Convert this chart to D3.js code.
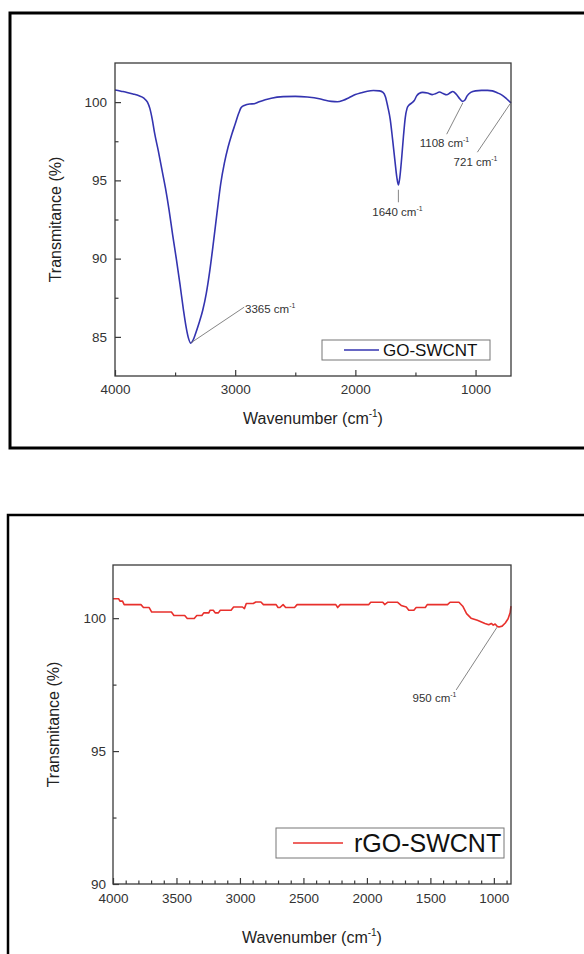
<!DOCTYPE html>
<html>
<head>
<meta charset="utf-8">
<script src="https://cdn.jsdelivr.net/npm/d3@7"></script>
<style>
  html, body { margin: 0; padding: 0; background: #fff; }
  svg { display: block; font-family: "Liberation Sans", Arial, sans-serif; }
</style>
</head>
<body>
<div id="chart"></div>
<script>
// GO-SWCNT spectrum (wavenumber in cm-1, transmittance in %)
const goWavenumber = [4000, 3950, 3900, 3850, 3800, 3760, 3730, 3710, 3690, 3670, 3640, 3610, 3580, 3550, 3520, 3490, 3460, 3430, 3410, 3390, 3370, 3350, 3330, 3300, 3270, 3240, 3210, 3180, 3150, 3120, 3090, 3060, 3030, 3000, 2970, 2950, 2920, 2880, 2840, 2800, 2750, 2700, 2600, 2500, 2400, 2300, 2250, 2200, 2150, 2100, 2050, 2000, 1950, 1900, 1850, 1800, 1770, 1750, 1730, 1710, 1690, 1670, 1655, 1642, 1630, 1615, 1600, 1585, 1570, 1555, 1530, 1510, 1490, 1470, 1440, 1400, 1360, 1330, 1300, 1270, 1240, 1210, 1190, 1160, 1130, 1110, 1090, 1070, 1040, 1000, 950, 900, 860, 820, 780, 740, 705];
const goTransmittance = [100.78, 100.7, 100.62, 100.52, 100.4, 100.25, 100.0, 99.6, 98.9, 98.0, 96.9, 95.7, 94.5, 93.1, 91.5, 90.0, 88.4, 86.7, 85.7, 84.95, 84.6, 84.8, 85.2, 85.9, 86.7, 87.8, 89.3, 91.1, 93.0, 94.8, 96.1, 97.1, 97.9, 98.6, 99.3, 99.65, 99.8, 99.88, 99.9, 100.02, 100.15, 100.25, 100.35, 100.37, 100.33, 100.22, 100.12, 100.05, 100.02, 100.12, 100.3, 100.48, 100.6, 100.7, 100.74, 100.72, 100.62, 100.35, 99.7, 98.9, 97.6, 96.2, 95.2, 94.7, 95.2, 96.4, 97.8, 99.0, 99.6, 99.8, 99.95, 100.1, 100.4, 100.55, 100.62, 100.58, 100.48, 100.55, 100.65, 100.55, 100.47, 100.6, 100.68, 100.5, 100.2, 100.05, 100.12, 100.4, 100.62, 100.72, 100.75, 100.75, 100.72, 100.6, 100.45, 100.2, 99.95];

// rGO-SWCNT spectrum
const rgoWavenumber = [4000, 3955, 3945, 3925, 3912, 3780, 3760, 3715, 3695, 3540, 3520, 3435, 3415, 3360, 3340, 3300, 3285, 3245, 3235, 3210, 3195, 3170, 3155, 3070, 3050, 2980, 2965, 2950, 2895, 2875, 2835, 2815, 2715, 2700, 2685, 2660, 2640, 2570, 2550, 2245, 2230, 2210, 1985, 1970, 1875, 1860, 1835, 1760, 1730, 1690, 1670, 1630, 1612, 1540, 1525, 1365, 1345, 1275, 1245, 1215, 1180, 1130, 1070, 1040, 1020, 1005, 990, 975, 960, 935, 910, 888, 872, 865];
const rgoTransmittance = [100.73, 100.73, 100.64, 100.64, 100.51, 100.51, 100.4, 100.4, 100.23, 100.23, 100.1, 100.1, 99.99, 99.99, 100.1, 100.1, 100.2, 100.2, 100.3, 100.3, 100.2, 100.2, 100.3, 100.3, 100.42, 100.42, 100.36, 100.55, 100.55, 100.61, 100.61, 100.51, 100.51, 100.4, 100.4, 100.51, 100.4, 100.4, 100.51, 100.51, 100.4, 100.51, 100.51, 100.6, 100.6, 100.51, 100.6, 100.6, 100.48, 100.42, 100.3, 100.3, 100.4, 100.4, 100.51, 100.51, 100.6, 100.6, 100.45, 100.17, 100.0, 99.92, 99.8, 99.75, 99.8, 99.74, 99.78, 99.7, 99.67, 99.7, 99.82, 99.98, 100.2, 100.45];

// axis ticks
const goXTicks = [4000, 3000, 2000, 1000];
const goXMinor = [3500, 2500, 1500];
const goYTicks = [85, 90, 95, 100];
const goYMinor = [87.5, 92.5, 97.5];
const rgoXTicks = [4000, 3500, 3000, 2500, 2000, 1500, 1000];
const rgoXMinor = d3.range(3900, 865, -100).filter(v => v % 500 !== 0);
const rgoYTicks = [90, 95, 100];
const rgoYMinor = [92.5, 97.5];

// peak annotations: [label, peak x, peak y, line end x, line end y, text x, text y, anchor]
const goPeaks = [
  ['3365', 3368, 84.62, 2925, 86.9, 2918, 86.8, 'start'],
  ['1640', 1642, 94.4, 1642, 93.6, 1650, 93.0, 'middle'],
  ['1108', 1106, 99.95, 1240, 97.95, 1259, 97.4, 'middle'],
  ['721', 712, 99.9, 985, 96.8, 1000, 96.2, 'middle']
];
const rgoPeaks = [
  ['950', 975, 99.66, 1297, 97.3, 1295, 97.0, 'end']
];

const W = 584, H = 954;
const svg = d3.select('#chart').append('svg')
  .attr('width', W).attr('height', H);

function cmText(sel, num, size) {
  sel.append('tspan').text(num + ' cm');
  sel.append('tspan').attr('dy', -size * 0.45).attr('font-size', size * 0.6).text('-1');
}

function drawPanel(cfg) {
  const g = svg.append('g');

  // outer frame
  g.append('rect')
    .attr('x', cfg.frame[0]).attr('y', cfg.frame[1])
    .attr('width', cfg.frame[2]).attr('height', cfg.frame[3])
    .attr('fill', 'none').attr('stroke', '#000').attr('stroke-width', cfg.frameWidth);

  const x = d3.scaleLinear().domain(cfg.xDomain).range([cfg.left, cfg.right]);
  const y = d3.scaleLinear().domain(cfg.yDomain).range([cfg.bottom, cfg.top]);

  const axisColor = '#3a3a3a';

  g.append('g').attr('transform', `translate(0,${cfg.bottom})`)
    .call(d3.axisBottom(x).tickValues(cfg.xTicks).tickSize(-6).tickPadding(cfg.xPad).tickFormat(d3.format('d')));
  g.append('g').attr('transform', `translate(0,${cfg.bottom})`)
    .call(d3.axisBottom(x).tickValues(cfg.xMinor).tickSize(-3.5).tickFormat(''));
  g.append('g').attr('transform', `translate(${cfg.left},0)`)
    .call(d3.axisLeft(y).tickValues(cfg.yTicks).tickSize(-6).tickPadding(cfg.yPad).tickFormat(d3.format('d')));
  g.append('g').attr('transform', `translate(${cfg.left},0)`)
    .call(d3.axisLeft(y).tickValues(cfg.yMinor).tickSize(-3.5).tickFormat(''));

  g.selectAll('.domain').remove();
  g.selectAll('.tick line').attr('stroke', axisColor).attr('stroke-width', 1.2);
  g.selectAll('.tick text').attr('fill', '#333').attr('font-size', 13.5)
    .attr('font-family', '"Liberation Sans", Arial, sans-serif');

  // spectrum
  const pts = cfg.xs.map((v, i) => [v, cfg.ys[i]]);
  g.append('path')
    .datum(pts)
    .attr('fill', 'none')
    .attr('stroke', cfg.color)
    .attr('stroke-width', 1.6)
    .attr('stroke-linejoin', 'round')
    .attr('d', d3.line().x(d => x(d[0])).y(d => y(d[1])).curve(cfg.curve));

  // plot box
  g.append('rect')
    .attr('x', cfg.left).attr('y', cfg.top)
    .attr('width', cfg.right - cfg.left).attr('height', cfg.bottom - cfg.top)
    .attr('fill', 'none').attr('stroke', axisColor).attr('stroke-width', 1.3);

  // peak labels
  cfg.peaks.forEach(p => {
    g.append('line')
      .attr('x1', x(p[1])).attr('y1', y(p[2]))
      .attr('x2', x(p[3])).attr('y2', y(p[4]))
      .attr('stroke', '#666').attr('stroke-width', 0.8);
    const t = g.append('text')
      .attr('x', x(p[5])).attr('y', y(p[6]))
      .attr('dy', '0.36em')
      .attr('text-anchor', p[7])
      .attr('font-size', 11.5).attr('fill', '#333');
    cmText(t, p[0], 11.5);
  });

  // legend
  const L = cfg.legend;
  g.append('rect')
    .attr('x', L.x).attr('y', L.y).attr('width', L.w).attr('height', L.h)
    .attr('fill', '#fff').attr('stroke', '#777').attr('stroke-width', 1);
  g.append('line')
    .attr('x1', L.x1).attr('x2', L.x2)
    .attr('y1', L.y + L.h / 2).attr('y2', L.y + L.h / 2)
    .attr('stroke', cfg.color).attr('stroke-width', 1.6);
  g.append('text')
    .attr('x', L.tx).attr('y', L.y + L.h / 2).attr('dy', '0.36em')
    .attr('font-size', L.fs).attr('fill', '#111').text(cfg.name);

  // axis titles
  const xt = g.append('text')
    .attr('x', (cfg.left + cfg.right) / 2).attr('y', cfg.xTitleY)
    .attr('text-anchor', 'middle').attr('font-size', 16).attr('fill', '#222');
  xt.append('tspan').text('Wavenumber (cm');
  xt.append('tspan').attr('dy', -7).attr('font-size', 10).text('-1');
  xt.append('tspan').attr('dy', 7).text(')');

  g.append('text')
    .attr('transform', `translate(${cfg.yTitleX},${(cfg.top + cfg.bottom) / 2}) rotate(-90)`)
    .attr('text-anchor', 'middle').attr('dy', '0.36em')
    .attr('font-size', 16).attr('fill', '#222')
    .text('Transmitance (%)');
}

drawPanel({
  frame: [10, 13, 600, 435], frameWidth: 3,
  left: 115, right: 511, top: 63, bottom: 376,
  xDomain: [4000, 705], yDomain: [82.5, 102.5],
  xTicks: goXTicks, xMinor: goXMinor, yTicks: goYTicks, yMinor: goYMinor,
  xPad: 8, yPad: 8,
  xs: goWavenumber, ys: goTransmittance,
  curve: d3.curveMonotoneX,
  color: '#3434b0', name: 'GO-SWCNT',
  peaks: goPeaks,
  legend: { x: 322, y: 340, w: 168, h: 20, x1: 344, x2: 379, tx: 383, fs: 17 },
  xTitleY: 424, yTitleX: 55
});

drawPanel({
  frame: [8, 515, 600, 460], frameWidth: 2.5,
  left: 113, right: 511, top: 565, bottom: 884,
  xDomain: [4000, 865], yDomain: [90, 102],
  xTicks: rgoXTicks, xMinor: rgoXMinor, yTicks: rgoYTicks, yMinor: rgoYMinor,
  xPad: 9, yPad: 7,
  xs: rgoWavenumber, ys: rgoTransmittance,
  curve: d3.curveLinear,
  color: '#e8302c', name: 'rGO-SWCNT',
  peaks: rgoPeaks,
  legend: { x: 276, y: 828, w: 228, h: 30, x1: 293, x2: 343, tx: 354, fs: 25 },
  xTitleY: 943, yTitleX: 53
});
</script>
</body>
</html>
